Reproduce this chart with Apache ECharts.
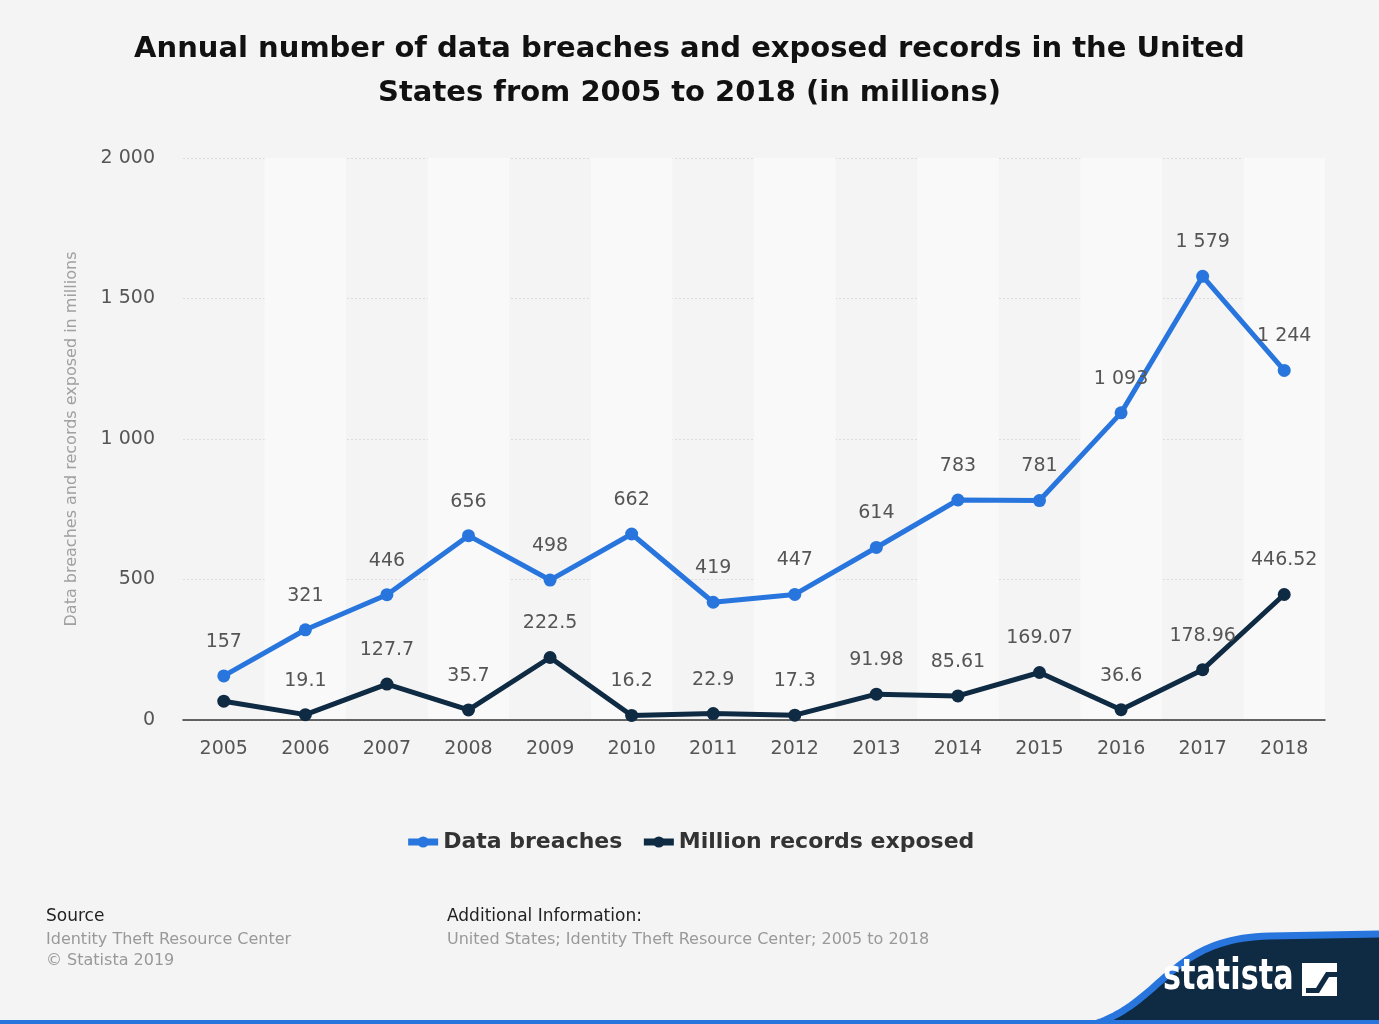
<!DOCTYPE html>
<html>
<head>
<meta charset="utf-8">
<script src="https://cdn.jsdelivr.net/npm/echarts@6/dist/echarts.min.js"></script>
<style>
  html, body { margin: 0; padding: 0; background: #f4f4f4; }
  #chart { width: 1379px; height: 1024px; }
</style>
</head>
<body>
<div id="chart"></div>
<script>
// data
const years = ['2005', '2006', '2007', '2008', '2009', '2010', '2011', '2012', '2013', '2014', '2015', '2016', '2017', '2018'];
const breaches = [157, 321, 446, 656, 498, 662, 419, 447, 614, 783, 781, 1093, 1579, 1244];
const recordsExposed = [66.9, 19.1, 127.7, 35.7, 222.5, 16.2, 22.9, 17.3, 91.98, 85.61, 169.07, 36.6, 178.96, 446.52];
const hiddenLabels = ['2005']; // records label not shown in the original for this year

const blue = '#2876dd';
const navy = '#0f2a43';
const font = 'DejaVu Sans';

// 1579 -> "1 579"
const fmt = v => String(v).replace(/\B(?=(\d{3})+(?!\d))/g, ' ');

// points along a cubic curve, for the decorative corner shape
function cubic(p0, p1, p2, p3, n) {
  const pts = [];
  for (let i = 0; i <= n; i++) {
    const t = i / n, u = 1 - t;
    pts.push([
      u * u * u * p0[0] + 3 * u * u * t * p1[0] + 3 * u * t * t * p2[0] + t * t * t * p3[0],
      u * u * u * p0[1] + 3 * u * u * t * p1[1] + 3 * u * t * t * p2[1] + t * t * t * p3[1]
    ]);
  }
  return pts;
}
const edge = cubic([1095, 1024], [1165, 1000], [1170, 938], [1270, 936], 40).concat([[1379, 934]]);
const corner = edge.concat([[1379, 1024]]);

const chart = echarts.init(document.getElementById('chart'));

const recordsData = recordsExposed.map((v, i) =>
  hiddenLabels.includes(years[i]) ? { value: v, label: { show: false } } : v
);

const labelStyle = { show: true, position: 'top', distance: 18, color: '#555', fontSize: 19, fontFamily: font, formatter: p => fmt(p.value) };

const option = {
  backgroundColor: '#f4f4f4',
  textStyle: { fontFamily: font },
  title: {
    text: 'Annual number of data breaches and exposed records in the United\nStates from 2005 to 2018 (in millions)',
    left: 'center',
    top: 22,
    textStyle: {
      fontFamily: font,
      fontSize: 29,
      fontWeight: 'bold',
      color: '#111',
      lineHeight: 44
    }
  },
  grid: { left: 183, right: 54, top: 158, bottom: 304, containLabel: false },
  legend: {
    top: 826,
    left: 'center',
    itemWidth: 30,
    itemHeight: 14,
    itemGap: 18,
    lineStyle: { width: 7 },
    textStyle: { fontFamily: font, fontSize: 22, fontWeight: 'bold', color: '#333' },
    data: ['Data breaches', 'Million records exposed']
  },
  xAxis: {
    type: 'category',
    data: years,
    boundaryGap: true,
    axisLine: { lineStyle: { color: '#333', width: 1.5 } },
    axisTick: { show: false },
    axisLabel: { color: '#555', fontSize: 19, margin: 20, fontFamily: font },
    splitArea: { show: true, areaStyle: { color: ['rgba(0,0,0,0)', '#f9f9f9'] } }
  },
  yAxis: {
    type: 'value',
    min: 0,
    max: 2000,
    interval: 500,
    name: 'Data breaches and records exposed in millions',
    nameLocation: 'middle',
    nameGap: 103,
    nameTextStyle: { color: '#a0a0a0', fontSize: 16, fontFamily: font },
    axisLine: { show: false },
    axisTick: { show: false },
    axisLabel: { color: '#555', fontSize: 19, margin: 28, fontFamily: font, formatter: fmt },
    splitLine: { lineStyle: { color: '#dcdcdc', type: [2, 2] } }
  },
  series: [
    {
      name: 'Data breaches',
      type: 'line',
      data: breaches,
      color: blue,
      symbol: 'circle',
      symbolSize: 13,
      lineStyle: { width: 5, color: blue },
      itemStyle: { color: blue },
      label: labelStyle,
      z: 3
    },
    {
      name: 'Million records exposed',
      type: 'line',
      data: recordsData,
      color: navy,
      symbol: 'circle',
      symbolSize: 13,
      lineStyle: { width: 5, color: navy },
      itemStyle: { color: navy },
      label: labelStyle,
      z: 4
    }
  ],
  graphic: [
    { type: 'text', x: 46, y: 908, style: { text: 'Source', font: '17px "DejaVu Sans"', fill: '#222' } },
    { type: 'text', x: 46, y: 932, style: { text: 'Identity Theft Resource Center', font: '16px "DejaVu Sans"', fill: '#999' } },
    { type: 'text', x: 46, y: 953, style: { text: '© Statista 2019', font: '16px "DejaVu Sans"', fill: '#999' } },
    { type: 'text', x: 447, y: 908, style: { text: 'Additional Information:', font: '17px "DejaVu Sans"', fill: '#222' } },
    { type: 'text', x: 447, y: 932, style: { text: 'United States; Identity Theft Resource Center; 2005 to 2018', font: '16px "DejaVu Sans"', fill: '#999' } },
    // statista corner
    { type: 'polygon', shape: { points: corner }, style: { fill: navy }, z: 10 },
    { type: 'polyline', shape: { points: edge }, style: { stroke: blue, lineWidth: 7, fill: null }, z: 11 },
    { type: 'rect', shape: { x: 0, y: 1020, width: 1379, height: 4 }, style: { fill: blue }, z: 11 },
    {
      type: 'text', x: 1163, y: 957, scaleX: 0.72,
      style: { text: 'statista', font: 'bold 42px "DejaVu Sans"', fill: '#fff' },
      z: 12
    },
    { type: 'rect', shape: { x: 1302, y: 963, width: 35, height: 33 }, style: { fill: '#fff' }, z: 12 },
    {
      type: 'polygon',
      shape: { points: [[1306, 988], [1316, 988], [1326, 972], [1337, 972], [1337, 977], [1329, 977], [1319, 993], [1306, 993]] },
      style: { fill: navy },
      z: 13
    }
  ]
};

chart.setOption(option);
</script>
</body>
</html>
